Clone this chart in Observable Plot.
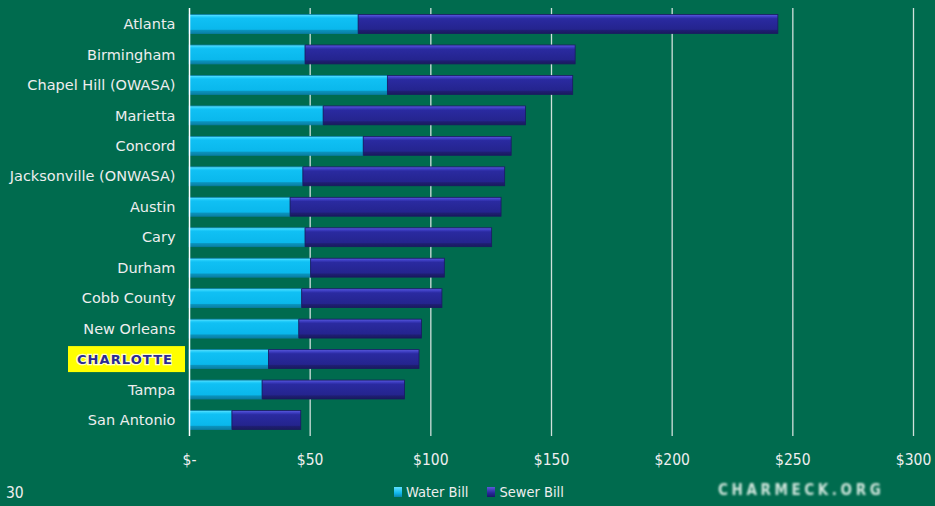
<!DOCTYPE html>
<html>
<head>
<meta charset="utf-8">
<script src="https://cdn.jsdelivr.net/npm/d3@7"></script>
<script src="https://cdn.jsdelivr.net/npm/@observablehq/plot@0.6"></script>
<style>
  html, body { margin: 0; padding: 0; background: #006B4E; width: 935px; height: 506px; overflow: hidden; }
  #chart { position: absolute; left: 0; top: 0; }
  #footer { position: absolute; left: 0; top: 474px; width: 935px; height: 32px; font-family: "DejaVu Sans Condensed", "DejaVu Sans", sans-serif; font-stretch: condensed; color: #eeeeee; font-size: 14px; }
  .pg { position: absolute; left: 6px; top: 10px; font-size: 15.5px; }
  .leg { position: absolute; left: 394px; top: 10px; display: flex; align-items: center; font-size: 14.5px; }
  .sw { display: inline-block; width: 8px; height: 10px; margin-right: 4px; }
  .logo { position: absolute; left: 718px; top: 7px; font-family: "DejaVu Sans", sans-serif; font-weight: bold; font-size: 15px; letter-spacing: 3.6px; color: #cfe6dc; filter: blur(0.9px); }
</style>
</head>
<body>
<div id="chart"></div>
<div id="footer">
  <span class="pg">30</span>
  <span class="leg">
    <span class="sw" style="background: linear-gradient(#5fe0ff, #10b8ee 60%, #0a86b0);"></span><span>Water Bill</span>
    <span style="width:19px"></span>
    <span class="sw" style="background: linear-gradient(#5a5ad8, #27279a 60%, #18186a);"></span><span>Sewer Bill</span>
  </span>
  <span class="logo">CHARMECK.ORG</span>
</div>
<script>
const cities = ["Atlanta", "Birmingham", "Chapel Hill (OWASA)", "Marietta", "Concord", "Jacksonville (ONWASA)", "Austin", "Cary", "Durham", "Cobb County", "New Orleans", "CHARLOTTE", "Tampa", "San Antonio"];
const waterBill = [70.1, 48.1, 82.2, 55.6, 72.2, 47.2, 41.9, 48.1, 50.4, 46.7, 45.5, 32.9, 30.3, 17.8];
const sewerBill = [173.9, 111.9, 76.8, 83.8, 61.3, 83.6, 87.4, 77.3, 55.4, 58.1, 50.8, 62.4, 59.0, 28.5];
const xTicks = [0, 50, 100, 150, 200, 250, 300];
const xTickLabels = ["$-", "$50", "$100", "$150", "$200", "$250", "$300"];
const seriesNames = ["Water Bill", "Sewer Bill"];

const rows = [];
cities.forEach((c, i) => {
  rows.push({city: c, series: seriesNames[0], x1: 0, x2: waterBill[i]});
  rows.push({city: c, series: seriesNames[1], x1: waterBill[i], x2: waterBill[i] + sewerBill[i]});
});

const font = '"DejaVu Sans", Verdana, sans-serif';

const chart = Plot.plot({
  width: 935,
  height: 474,
  marginLeft: 189,
  marginRight: 22,
  marginTop: 8,
  marginBottom: 38,
  style: {background: "transparent", color: "#eeeeee", fontFamily: font, fontSize: "14px"},
  x: {domain: [0, 300], ticks: xTicks, tickFormat: d => xTickLabels[xTicks.indexOf(d)]},
  y: {domain: cities, paddingInner: 0.38, paddingOuter: 0.215, align: 0.5, round: false},
  marks: [
    Plot.ruleX(xTicks.filter(d => d > 0), {stroke: "#f4f4f4", strokeWidth: 1.3, strokeOpacity: 0.85}),
    Plot.barX(rows, {
      x1: "x1", x2: "x2", y: "city",
      fill: d => d.series === seriesNames[0] ? "url(#gWater)" : "url(#gSewer)",
      stroke: d => d.series === seriesNames[0] ? "#0a7fa8" : "#1a1a62",
      strokeWidth: 0.8
    }),
    Plot.ruleX([0], {stroke: "#ffffff", strokeWidth: 1.5}),
    Plot.ruleY([0], {stroke: "#ffffff", strokeWidth: 1.5, frameAnchor: "bottom", x1: 0, x2: 300}),
    Plot.axisX({ticks: xTicks, tickFormat: d => xTickLabels[xTicks.indexOf(d)], tickSize: 0, tickPadding: 17, label: null, fontSize: 15.5, fill: "#eeeeee", fontFamily: '"DejaVu Sans Condensed", "DejaVu Sans", sans-serif'}),
    Plot.axisY({tickSize: 0, tickPadding: 14, label: null, fontSize: 14.5, fill: "#eeeeee"})
  ]
});

// gradients for the bevelled bars
const ns = "http://www.w3.org/2000/svg";
const defs = document.createElementNS(ns, "defs");
function grad(id, stops) {
  const g = document.createElementNS(ns, "linearGradient");
  g.setAttribute("id", id);
  g.setAttribute("x1", "0"); g.setAttribute("y1", "0"); g.setAttribute("x2", "0"); g.setAttribute("y2", "1");
  stops.forEach(([o, c]) => {
    const s = document.createElementNS(ns, "stop");
    s.setAttribute("offset", o); s.setAttribute("stop-color", c);
    g.appendChild(s);
  });
  defs.appendChild(g);
}
grad("gWater", [["0", "#63e4ff"], ["0.12", "#22ccfa"], ["0.2", "#10c0f4"], ["0.78", "#0ab8ec"], ["0.84", "#0a92bc"], ["1", "#0a80a4"]]);
grad("gSewer", [["0", "#5c5ce0"], ["0.12", "#3c3cc0"], ["0.22", "#2a2aa0"], ["0.78", "#24248e"], ["0.84", "#1e1e72"], ["1", "#1a1a5e"]]);
chart.insertBefore(defs, chart.firstChild);

// Charlotte highlighted label (replaces the plain tick text)
const yScale = chart.scale("y");
const cy = yScale.apply("CHARLOTTE") + yScale.bandwidth / 2;
chart.querySelectorAll("text").forEach(t => {
  if (t.textContent === "CHARLOTTE") t.remove();
});
const rect = document.createElementNS(ns, "rect");
rect.setAttribute("x", 68); rect.setAttribute("width", 117);
rect.setAttribute("height", 26);
rect.setAttribute("fill", "#ffff00");
rect.setAttribute("y", cy - 13);
chart.appendChild(rect);
const lbl = document.createElementNS(ns, "text");
lbl.setAttribute("x", 125); lbl.setAttribute("y", cy);
lbl.setAttribute("text-anchor", "middle");
lbl.setAttribute("dominant-baseline", "central");
lbl.setAttribute("font-family", '"DejaVu Sans", sans-serif');
lbl.setAttribute("font-weight", "bold");
lbl.setAttribute("font-size", "13");
lbl.setAttribute("letter-spacing", "1.1");
lbl.setAttribute("fill", "#2a2a96");
lbl.setAttribute("stroke", "#ffffff");
lbl.setAttribute("stroke-width", "2.5");
lbl.setAttribute("stroke-opacity", "0.8");
lbl.setAttribute("paint-order", "stroke");
lbl.textContent = "CHARLOTTE";
chart.appendChild(lbl);

document.getElementById("chart").appendChild(chart);
</script>
</body>
</html>
